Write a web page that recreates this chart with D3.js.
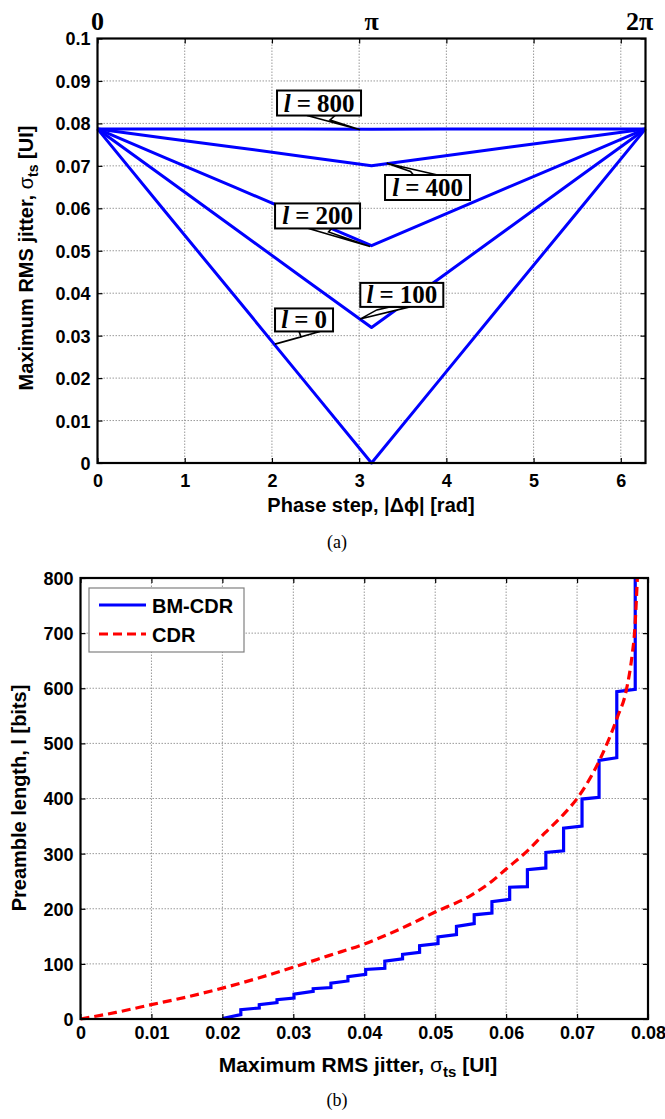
<!DOCTYPE html>
<html><head><meta charset="utf-8">
<script src="https://cdn.jsdelivr.net/npm/d3@7"></script>
<style>
body{margin:0;background:#fff}
text{font-family:"Liberation Sans",Arial,sans-serif}
.tick text{font-family:"Liberation Sans",Arial,sans-serif;font-weight:bold;font-size:18px;fill:#000}
</style>
</head><body>
<svg id="c" width="665" height="1119" xmlns="http://www.w3.org/2000/svg"></svg>
<script>
// ---------- Data: panel (a) ----------
const phaseX   = [0, 0.785, 1.571, 2.356, 3.142, 3.927, 4.712, 5.498, 6.283];
const jitterL0   = [0.0787, 0.0590, 0.0394, 0.0197, 0.0000, 0.0197, 0.0394, 0.0590, 0.0787];
const jitterL100 = [0.0787, 0.0670, 0.0553, 0.0436, 0.0319, 0.0436, 0.0553, 0.0670, 0.0787];
const jitterL200 = [0.0787, 0.0718, 0.0650, 0.0581, 0.0512, 0.0581, 0.0650, 0.0718, 0.0787];
const jitterL400 = [0.0787, 0.0765, 0.0744, 0.0722, 0.0700, 0.0722, 0.0744, 0.0765, 0.0787];
const jitterL800 = [0.0787, 0.0787, 0.0787, 0.0787, 0.0786, 0.0787, 0.0787, 0.0787, 0.0787];
const topXTicks = [0, 1, 2, 3, 4, 5, 6];
const topYTicks = [0, 0.01, 0.02, 0.03, 0.04, 0.05, 0.06, 0.07, 0.08, 0.09, 0.1];
const piTickValues = [0, Math.PI, 2 * Math.PI];
const piTickLabels = ["0", "π", "2π"];
const curveLabels = ["800", "400", "200", "100", "0"];

// ---------- Data: panel (b) ----------
const bmX = [0.0200, 0.0226, 0.0226, 0.0252, 0.0252, 0.0277, 0.0277, 0.0301, 0.0301, 0.0328, 0.0328,
             0.0353, 0.0353, 0.0377, 0.0377, 0.0402, 0.0402, 0.0429, 0.0429, 0.0454, 0.0454, 0.0478,
             0.0478, 0.0504, 0.0504, 0.0530, 0.0530, 0.0555, 0.0555, 0.0580, 0.0580, 0.0605, 0.0605,
             0.0630, 0.0630, 0.0656, 0.0656, 0.0681, 0.0681, 0.0707, 0.0707, 0.0731, 0.0731, 0.0756,
             0.0756, 0.0782, 0.0782];
const bmY = [1, 8, 17, 20, 26, 30, 35, 38, 45, 50, 55,
             57, 65, 69, 77, 81, 90, 92, 105, 109, 117, 121,
             133, 137, 149, 153, 168, 173, 189, 192, 213, 217, 239,
             240, 271, 274, 302, 305, 346, 350, 399, 402, 469, 474,
             594, 598, 800];
const cdrX = [0, 0.005, 0.01, 0.015, 0.02, 0.025, 0.03, 0.035, 0.04, 0.045, 0.05, 0.055, 0.058,
              0.06, 0.063, 0.0655, 0.068, 0.07, 0.0733, 0.0757, 0.0769, 0.0778, 0.0781, 0.0785];
const cdrY = [0, 12, 26, 40, 56, 74, 94, 115, 136, 163, 194, 224, 250,
              272, 305, 338, 370, 400, 473, 548, 594, 664, 700, 800];
const botXTicks = [0, 0.01, 0.02, 0.03, 0.04, 0.05, 0.06, 0.07, 0.08];
const botYTicks = [0, 100, 200, 300, 400, 500, 600, 700, 800];
const legendNames = ["BM-CDR", "CDR"];

// ---------- Setup ----------
const svg = d3.select("#c");
const fmt = v => String(+v.toFixed(2));
const BLUE = "#0000ff", RED = "#ff0000";

function panelFrame(x, y, xt, yt) {
  const g = svg.append("g");
  const [x0, x1] = x.range(), [y0, y1] = y.range();
  g.selectAll(".gx").data(xt).join("line")
    .attr("x1", d => x(d)).attr("x2", d => x(d)).attr("y1", y0).attr("y2", y1)
    .attr("stroke", "#9a9a9a").attr("stroke-width", 1).attr("stroke-dasharray", "1.5,1.5");
  g.selectAll(".gy").data(yt).join("line")
    .attr("y1", d => y(d)).attr("y2", d => y(d)).attr("x1", x0).attr("x2", x1)
    .attr("stroke", "#9a9a9a").attr("stroke-width", 1).attr("stroke-dasharray", "1.5,1.5");
  return g;
}
function panelAxes(x, y, xt, yt, padX) {
  const [x0, x1] = x.range(), [y0, y1] = y.range();
  const ax = svg.append("g").attr("transform", `translate(0,${y0})`)
    .call(d3.axisBottom(x).tickValues(xt).tickFormat(fmt).tickSizeInner(-5).tickSizeOuter(0).tickPadding(padX));
  const ay = svg.append("g").attr("transform", `translate(${x0},0)`)
    .call(d3.axisLeft(y).tickValues(yt).tickFormat(fmt).tickSizeInner(-5).tickSizeOuter(0).tickPadding(7));
  const axT = svg.append("g").attr("transform", `translate(0,${y1})`)
    .call(d3.axisTop(x).tickValues(xt).tickFormat("").tickSizeInner(-5).tickSizeOuter(0));
  const ayR = svg.append("g").attr("transform", `translate(${x1},0)`)
    .call(d3.axisRight(y).tickValues(yt).tickFormat("").tickSizeInner(-5).tickSizeOuter(0));
  [ax, ay, axT, ayR].forEach(a => {
    a.select(".domain").remove();
    a.selectAll(".tick line").attr("stroke", "#000").attr("stroke-width", 1.2);
  });
  ay.selectAll(".tick text").attr("dy", "0.36em");
  svg.append("rect").attr("x", x0).attr("y", y1).attr("width", x1 - x0).attr("height", y0 - y1)
    .attr("fill", "none").attr("stroke", "#000").attr("stroke-width", 2.2);
}

// ---------- Panel (a) ----------
const xT = d3.scaleLinear([0, 2 * Math.PI], [97.5, 645.5]);
const yT = d3.scaleLinear([0, 0.1], [463, 38.5]);
panelFrame(xT, yT, topXTicks, topYTicks);

const topSeries = [jitterL800, jitterL400, jitterL200, jitterL100, jitterL0];
const lineT = d3.line().x(d => xT(d[0])).y(d => yT(d[1]));
topSeries.forEach(s => {
  svg.append("path").attr("d", lineT(phaseX.map((p, i) => [p, s[i]])))
    .attr("fill", "none").attr("stroke", BLUE).attr("stroke-width", 3).attr("stroke-linejoin", "round");
});
panelAxes(xT, yT, topXTicks, topYTicks, 11);

svg.append("g").selectAll("text").data(piTickValues).join("text")
  .attr("x", (d, i) => xT(d) + (i === 2 ? -6 : 0)).attr("y", 30)
  .attr("text-anchor", "middle")
  .style("font-family", "'Liberation Serif','Times New Roman',serif")
  .style("font-weight", "bold").style("font-size", "26px")
  .text((d, i) => piTickLabels[i]);

// callouts (tip & box centre in data units, pointer geometry in px)
const callouts = [
  {tip: [3.01, 0.0785], box: [2.54, 0.0848], w: 84, h: 25, side: 1,  b1: -12, b2: 16,  k: [11, 17]},
  {tip: [3.316, 0.0706], box: [3.784, 0.0649], w: 85, h: 25, side: -1, b1: 10,  b2: -14, k: [-17, -16]},
  {tip: [3.125, 0.0510], box: [2.523, 0.0582], w: 85, h: 25, side: 1,  b1: -9,  b2: 14,  k: [11, 16]},
  {tip: [3.01, 0.0339], box: [3.489, 0.0396], w: 83, h: 24, side: 1,  b1: 8,   b2: -12, k: [-25, 15]},
  {tip: [2.035, 0.0280], box: [2.368, 0.0337], w: 58, h: 23, side: 1,  b1: 16,  b2: -5,  k: [-3, 17]}
];
callouts.forEach((c, i) => {
  const g = svg.append("g");
  const cx = xT(c.box[0]), cy = yT(c.box[1]);
  const tx = xT(c.tip[0]), ty = yT(c.tip[1]);
  const ey = cy + c.side * c.h / 2;
  g.append("path")
    .attr("d", `M${cx + c.b1},${ey} L${tx},${ty} L${cx + c.k[0]},${cy + c.k[1]} L${cx + c.b2},${ey} Z`)
    .attr("fill", "#fff").attr("stroke", "#000").attr("stroke-width", 1.6).attr("stroke-linejoin", "miter");
  g.append("rect").attr("x", cx - c.w / 2).attr("y", cy - c.h / 2).attr("width", c.w).attr("height", c.h)
    .attr("fill", "#fff").attr("stroke", "#000").attr("stroke-width", 2);
  const t = g.append("text").attr("x", cx).attr("y", cy + 8.5).attr("text-anchor", "middle")
    .style("font-family", "'Liberation Serif','Times New Roman',serif")
    .style("font-weight", "bold").style("font-size", "25px");
  t.append("tspan").style("font-style", "italic").text("l");
  t.append("tspan").attr("dx", 6).text("=");
  t.append("tspan").attr("dx", 6).text(curveLabels[i]);
});

// axis titles (a)
svg.append("text").attr("x", 371).attr("y", 512).attr("text-anchor", "middle")
  .style("font-weight", "bold").style("font-size", "20px").text("Phase step, |Δϕ| [rad]");
function jitterLabel(sel, size) {
  sel.style("font-weight", "bold").style("font-size", size + "px");
  sel.append("tspan").text("Maximum RMS jitter, ");
  sel.append("tspan").style("font-weight", "normal").text("σ");
  sel.append("tspan").attr("dy", 5).style("font-size", Math.round(size * 0.7) + "px").text("ts");
  sel.append("tspan").attr("dy", -5).text(" [UI]");
}
svg.append("text").attr("transform", "translate(33,258) rotate(-90)").attr("text-anchor", "middle")
  .call(jitterLabel, 20);
svg.append("text").attr("x", 337).attr("y", 548).attr("text-anchor", "middle")
  .style("font-family", "'Liberation Serif','Times New Roman',serif").style("font-size", "18px").text("(a)");

// ---------- Panel (b) ----------
const xB = d3.scaleLinear([0, 0.08], [80.5, 648]);
const yB = d3.scaleLinear([0, 800], [1019, 578]);
panelFrame(xB, yB, botXTicks, botYTicks);
const lineB = d3.line().x(d => xB(d[0])).y(d => yB(d[1]));
svg.append("path").attr("d", lineB(bmX.map((v, i) => [v, bmY[i]])))
  .attr("fill", "none").attr("stroke", BLUE).attr("stroke-width", 3.2).attr("stroke-linejoin", "miter");
svg.append("path").attr("d", d3.line().curve(d3.curveMonotoneX).x(d => xB(d[0])).y(d => yB(d[1]))(cdrX.map((v, i) => [v, cdrY[i]])))
  .attr("fill", "none").attr("stroke", RED).attr("stroke-width", 3.2).attr("stroke-dasharray", "9,5");
panelAxes(xB, yB, botXTicks, botYTicks, 7);

// legend
const lg = svg.append("g");
lg.append("rect").attr("x", 89).attr("y", 588).attr("width", 155).attr("height", 64)
  .attr("fill", "#fff").attr("stroke", "#808080").attr("stroke-width", 1.2);
const legendStyles = [{c: BLUE, dash: null, y: 605}, {c: RED, dash: "9,5", y: 634}];
legendNames.forEach((n, i) => {
  const s = legendStyles[i];
  lg.append("line").attr("x1", 99).attr("x2", 146).attr("y1", s.y).attr("y2", s.y)
    .attr("stroke", s.c).attr("stroke-width", 3.2).attr("stroke-dasharray", s.dash);
  lg.append("text").attr("x", 152).attr("y", s.y + 8).style("font-weight", "bold").style("font-size", "20px").text(n);
});

// axis titles (b)
svg.append("text").attr("x", 358).attr("y", 1072).attr("text-anchor", "middle").call(jitterLabel, 21);
svg.append("text").attr("transform", "translate(26,798) rotate(-90)").attr("text-anchor", "middle")
  .style("font-weight", "bold").style("font-size", "20px").text("Preamble length, l [bits]");
svg.append("text").attr("x", 337).attr("y", 1106).attr("text-anchor", "middle")
  .style("font-family", "'Liberation Serif','Times New Roman',serif").style("font-size", "18px").text("(b)");
</script>
</body></html>
